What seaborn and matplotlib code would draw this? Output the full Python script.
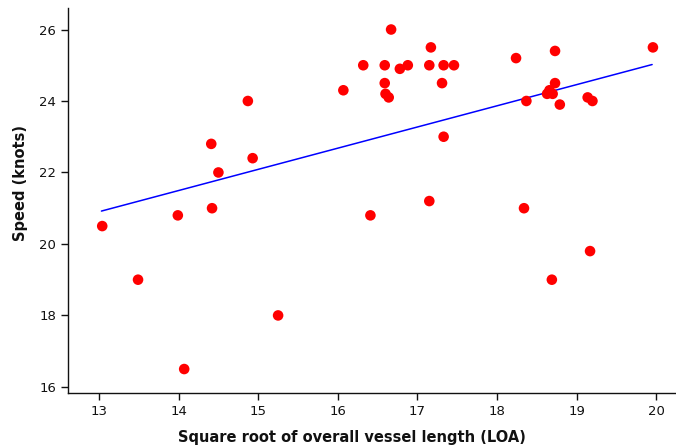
import matplotlib
matplotlib.use("Agg")
import matplotlib.pyplot as plt
import seaborn as sns
import pandas as pd

sns.set_theme(style="ticks")
plt.rcParams['font.family'] = ['DejaVu Sans']

# square root of LOA vs speed
sqrt_loa = [13.04, 13.49, 13.99, 14.07, 14.41, 14.42, 14.50, 14.87, 14.93, 15.25,
            16.07, 16.32, 16.41, 16.59, 16.59, 16.60, 16.64, 16.67, 16.78, 16.88,
            17.15, 17.17, 17.15, 17.31, 17.33, 17.33, 17.46, 18.24, 18.34, 18.37,
            18.63, 18.66, 18.70, 18.69, 18.73, 18.73, 18.79, 19.14, 19.17, 19.20,
            19.96]
speed = [20.5, 19.0, 20.8, 16.5, 22.8, 21.0, 22.0, 24.0, 22.4, 18.0,
         24.3, 25.0, 20.8, 25.0, 24.5, 24.2, 24.1, 26.0, 24.9, 25.0,
         25.0, 25.5, 21.2, 24.5, 25.0, 23.0, 25.0, 25.2, 21.0, 24.0,
         24.2, 24.3, 24.2, 19.0, 25.4, 24.5, 23.9, 24.1, 19.8, 24.0,
         25.5]

# fitted line end points as shown in the reference
fit_x = [13.03, 19.95]
fit_y = [20.92, 25.02]

x_ticks = [13, 14, 15, 16, 17, 18, 19, 20]
y_ticks = [16, 18, 20, 22, 24, 26]

df = pd.DataFrame({'sqrt_loa': sqrt_loa, 'speed': speed})
fit = pd.DataFrame({'x': fit_x, 'y': fit_y})

fig = plt.figure(figsize=(6.76, 4.48), dpi=100)
ax = fig.add_axes([0.1006, 0.122, 0.8994, 0.860])

sns.lineplot(data=fit, x='x', y='y', ax=ax, color='#0000ff', linewidth=1.1, zorder=2)
sns.scatterplot(data=df, x='sqrt_loa', y='speed', ax=ax, s=58, color='#ff0000',
                edgecolor='none', zorder=3)

ax.set_xlim(12.61, 20.25)
ax.set_ylim(15.82, 26.6)
ax.set_xticks(x_ticks)
ax.set_yticks(y_ticks)
ax.tick_params(axis='both', labelsize=9.5, length=5, width=1, color='#111111',
               labelcolor='#111111', direction='out')
sns.despine(ax=ax)
for s in ['left', 'bottom']:
    ax.spines[s].set_linewidth(1)
    ax.spines[s].set_color('#111111')

ax.set_xlabel('Square root of overall vessel length (LOA)', fontsize=10.5,
              fontweight='bold', labelpad=2, color='#111111')
ax.set_ylabel('Speed (knots)', fontsize=10.5, fontweight='bold', labelpad=8, color='#111111')
ax.xaxis.set_label_coords(0.467, -0.094)
ax.yaxis.set_label_coords(-0.066, 0.547)

fig.savefig('out.png', dpi=100)
